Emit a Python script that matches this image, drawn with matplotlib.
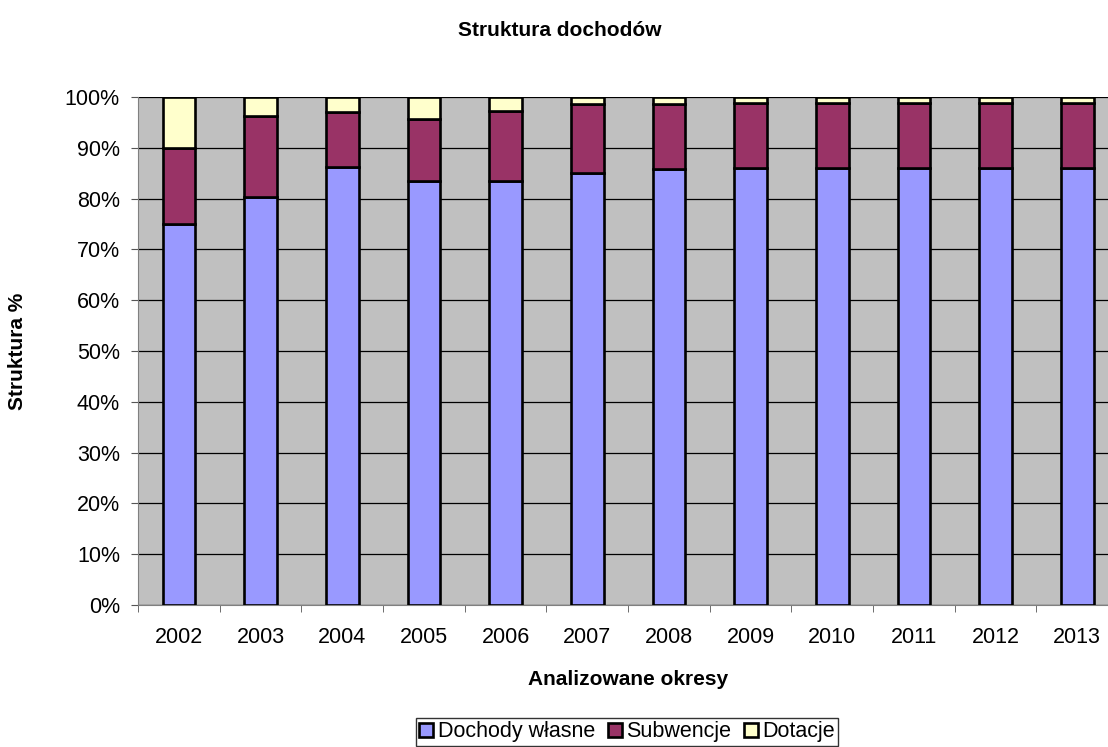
import matplotlib.pyplot as plt
import numpy as np
from matplotlib.ticker import PercentFormatter

plt.rcParams['font.family'] = ['Liberation Sans', 'DejaVu Sans']

years = ["2002", "2003", "2004", "2005", "2006", "2007",
         "2008", "2009", "2010", "2011", "2012", "2013"]
dochody_wlasne = [75.0, 80.3, 86.2, 83.5, 83.5, 85.0, 85.9, 86.0, 86.0, 86.0, 86.0, 86.0]
subwencje = [15.0, 16.0, 10.8, 12.2, 13.8, 13.6, 12.7, 12.8, 12.8, 12.8, 12.8, 12.8]
dotacje = [10.0, 3.7, 3.0, 4.3, 2.7, 1.4, 1.4, 1.2, 1.2, 1.2, 1.2, 1.2]

series = [("Dochody własne", dochody_wlasne, "#9999ff"),
          ("Subwencje", subwencje, "#993366"),
          ("Dotacje", dotacje, "#ffffcc")]

fig = plt.figure(figsize=(11.08, 7.47), dpi=100)
# plot area runs a little past the right edge, as in the original export
ax = fig.add_axes([138 / 1108, 1 - 605 / 747, 980 / 1108, 508 / 747])
ax.set_facecolor("#c0c0c0")

x = np.arange(len(years))
bottom = np.zeros(len(years))
for name, vals, color in series:
    ax.bar(x, vals, 0.4, bottom=bottom, color=color, edgecolor="black",
           linewidth=1.9, label=name, zorder=3)
    bottom += np.array(vals)

ax.set_xlim(-0.5, len(years) - 0.5)
ax.set_ylim(0, 100)
ax.set_yticks(np.arange(0, 101, 10))
ax.yaxis.set_major_formatter(PercentFormatter(decimals=0))
ax.grid(axis="y", color="black", linewidth=0.9, zorder=1)

ax.set_xticks(x)
ax.set_xticklabels(years)
ax.set_xticks(np.arange(-0.5, len(years)), minor=True)
ax.tick_params(axis="x", which="major", length=0, pad=16, labelsize=15.5)
ax.tick_params(axis="x", which="minor", length=5, color="#555555")
ax.tick_params(axis="y", length=5, color="#555555", labelsize=15.5, pad=8)

for side in ["top", "right"]:
    ax.spines[side].set_visible(False)
for side in ["left", "bottom"]:
    ax.spines[side].set_color("#808080")

ax.set_xlabel("Analizowane okresy", fontsize=15, fontweight="bold", labelpad=16)
ax.set_ylabel("Struktura %", fontsize=15, fontweight="bold", labelpad=27)
fig.text(560 / 1108, 1 - 30 / 747, "Struktura dochodów", ha="center", va="center",
         fontsize=15, fontweight="bold")

leg = fig.legend(loc="center", bbox_to_anchor=(0.566, 1 - 732 / 747), ncol=3,
                 frameon=True, fancybox=False, fontsize=15.5,
                 handlelength=0.65, handleheight=0.65, handletextpad=0.2,
                 columnspacing=0.6, borderpad=0.15)
leg.get_frame().set_edgecolor("black")
leg.get_frame().set_linewidth(1.0)

fig.savefig("out.png", dpi=100)
